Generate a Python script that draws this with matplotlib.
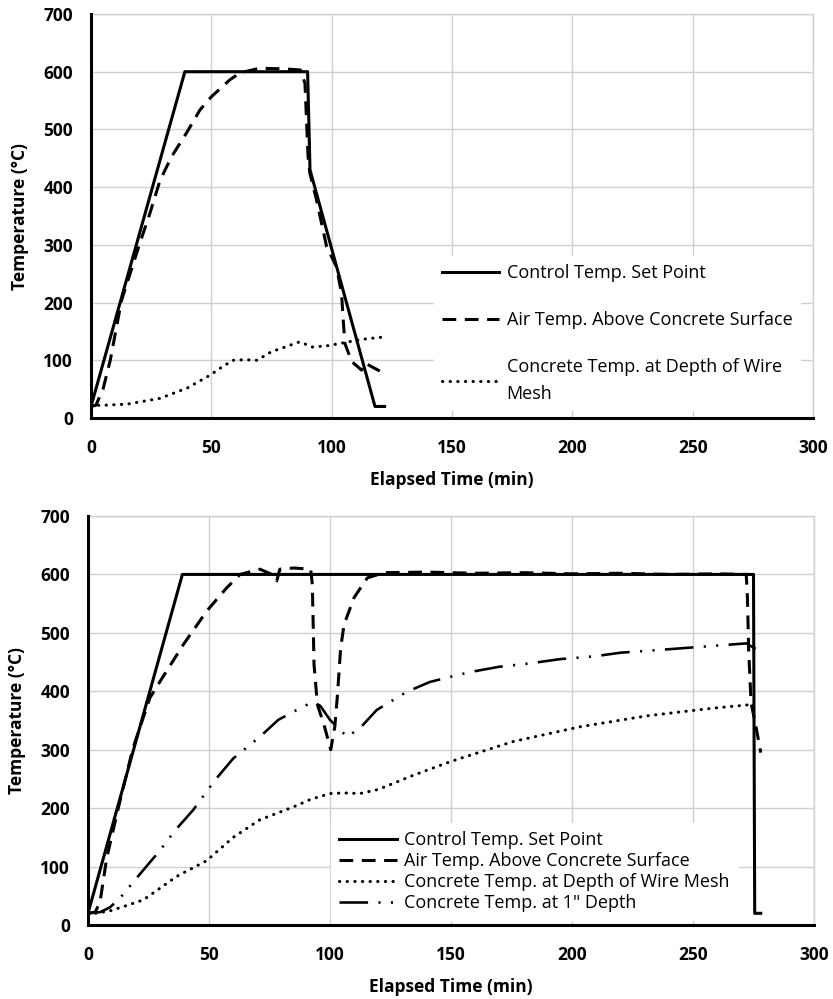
import matplotlib
matplotlib.use("Agg")
import matplotlib.pyplot as plt

# ---- Test 1 (upper panel) ----
ctrl1_t = [0, 39, 90, 91, 118, 122]
ctrl1_v = [20, 600, 600, 430, 20, 20]

air1_t = [0, 2, 5, 8, 12.7, 20.3, 24.5, 28.7, 33.5, 39.7, 45.3, 50.1, 57.7, 61.9,
          70, 80, 87, 88.9, 90.2, 90.9, 93.7, 97.9, 102, 104.1, 104.8, 105.5, 108.3,
          112.4, 114, 117, 122]
air1_v = [20, 22, 50, 100, 204, 303, 355, 412, 453, 494, 534, 557, 586, 598,
          606, 605, 603, 580, 452, 425, 378, 297, 262, 216, 170, 129, 98,
          83, 95, 88, 77]

mesh1_t = [0, 1.7, 5, 15, 28.6, 40, 49.4, 55, 59, 64, 69, 75, 80, 86.7, 92, 98,
           104.6, 112, 121]
mesh1_v = [20, 22, 22, 24, 34, 52, 74, 90, 100, 101, 100, 115, 122, 132, 123, 125,
           130, 136, 140]

# ---- Test 2 (lower panel) ----
ctrl2_t = [0, 39, 275, 275.5, 278]
ctrl2_v = [20, 600, 600, 20, 20]

air2_t = [0, 3, 5, 7.7, 12.5, 18.6, 25.6, 29.8, 39.4, 49, 57.3, 62.8, 71, 76, 78,
          79.3, 85, 92, 92.7, 93.4, 94.8, 97.5, 100.3, 102, 103, 104.4, 105.8, 109.9,
          115.4, 122.3, 140, 160, 180, 200, 220, 240, 260, 272, 272.5, 273, 274, 276,
          278]
air2_v = [20, 22, 40, 114, 200, 303, 389, 417, 480, 537, 577, 600, 609, 600, 589,
          609, 611, 609, 583, 446, 377, 343, 300, 340, 389, 474, 514, 560,
          594, 603, 604, 602, 603, 601, 602, 600, 601, 600, 560, 470, 380, 340,
          295]

mesh2_t = [0, 3, 9, 15, 22.9, 36.6, 49, 60, 71, 84.8, 92, 100, 106, 112.4, 120,
           133, 148, 153.7, 175.7, 203, 231, 258, 273.5]
mesh2_v = [20, 20, 24, 32, 43, 83, 110, 150, 180, 202, 215, 225, 226, 225, 232,
           254, 277, 285, 314, 339, 358, 371, 377]

depth2_t = [0, 5, 9, 13.2, 19.4, 29.8, 36, 43.5, 52.5, 60, 71, 78.6, 87.6, 93, 96,
            100, 104, 107, 112.4, 119.3, 131.7, 141.3, 150, 158, 170, 183, 195,
            209.5, 220, 240, 262.5, 272, 277]
depth2_v = [20, 22, 30, 46, 77, 128, 162, 197, 248, 285, 322, 351, 371, 382, 375,
            351, 335, 322, 337, 368, 399, 416, 425, 433, 442, 448, 455,
            460, 466, 472, 479, 482, 470]

labels = ["Control Temp. Set Point",
          "Air Temp. Above Concrete Surface",
          "Concrete Temp. at Depth of Wire Mesh",
          "Concrete Temp. at 1\" Depth"]

plt.rcParams["font.family"] = ["Open Sans", "DejaVu Sans"]

LW = 2.2
styles = {
    "ctrl": dict(color="black", lw=LW, linestyle="-"),
    "air": dict(color="black", lw=LW, linestyle=(0, (4.5, 2.8))),
    "mesh": dict(color="black", lw=LW, linestyle=(0, (0.1, 2.4)),
                 dash_capstyle="round"),
    "depth": dict(color="black", lw=LW * 0.85, linestyle=(0, (11, 4, 0.8, 4, 0.8, 4))),
}

fig = plt.figure(figsize=(8.33, 9.99), dpi=100)
ax1 = fig.add_axes([91 / 833, 1 - 418 / 999, 722 / 833, 404 / 999])
ax2 = fig.add_axes([88 / 833, 1 - 925 / 999, 726 / 833, 409 / 999])


def style_axes(ax):
    ax.set_xlim(0, 300)
    ax.set_ylim(0, 700)
    ax.set_xticks(range(0, 301, 50))
    ax.set_yticks(range(0, 701, 100))
    ax.grid(True, color="#d0d0d0", lw=1.0)
    ax.set_axisbelow(True)
    for s in ("top", "right"):
        ax.spines[s].set_color("#d0d0d0")
        ax.spines[s].set_linewidth(1.0)
    for s in ("left", "bottom"):
        ax.spines[s].set_color("black")
        ax.spines[s].set_linewidth(2.2)
        ax.spines[s].set_zorder(5)
    ax.tick_params(axis="both", length=0, labelsize=12.5)
    ax.tick_params(axis="y", pad=13)
    ax.tick_params(axis="x", pad=15)
    for lab in ax.get_xticklabels() + ax.get_yticklabels():
        lab.set_fontweight("bold")
    ax.set_xlabel("Elapsed Time (min)", fontsize=12.5, fontweight="bold", labelpad=10)
    ax.set_ylabel("Temperature (°C)", fontsize=12.5, fontweight="bold", labelpad=10)


style_axes(ax1)
l1, = ax1.plot(ctrl1_t, ctrl1_v, **styles["ctrl"])
l2, = ax1.plot(air1_t, air1_v, **styles["air"])
l3, = ax1.plot(mesh1_t, mesh1_v, **styles["mesh"])
leg1 = ax1.legend([l1, l2, l3],
                  [labels[0], labels[1], "Concrete Temp. at Depth of Wire\nMesh"],
                  loc="upper left", bbox_to_anchor=(0.475, 0.40),
                  frameon=True, fancybox=False, framealpha=1.0, edgecolor="white",
                  fontsize=13, handlelength=3.2, handletextpad=0.4,
                  labelspacing=1.62, borderpad=0.42, borderaxespad=0)
leg1.get_texts()[2].set_linespacing(1.6)

style_axes(ax2)
m1, = ax2.plot(ctrl2_t, ctrl2_v, **styles["ctrl"])
m2, = ax2.plot(air2_t, air2_v, **styles["air"])
m3, = ax2.plot(mesh2_t, mesh2_v, **styles["mesh"])
m4, = ax2.plot(depth2_t, depth2_v, **styles["depth"])
ax2.legend([m1, m2, m3, m4], labels,
           loc="lower left", bbox_to_anchor=(0.335, 0.012),
           frameon=True, fancybox=False, framealpha=1.0, edgecolor="white",
           fontsize=13, handlelength=3.2, handletextpad=0.4,
           labelspacing=0.16, borderpad=0.45, borderaxespad=0)

fig.savefig("out.png", dpi=100, facecolor="white")
